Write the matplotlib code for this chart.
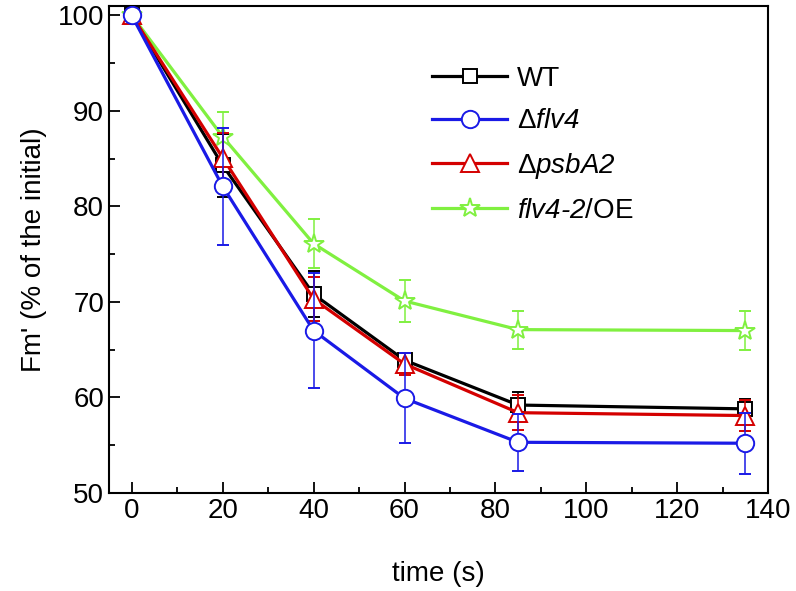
import numpy as np
import matplotlib.pyplot as plt
from matplotlib.ticker import MultipleLocator

plt.rcParams['font.family'] = ['Liberation Sans', 'DejaVu Sans']
plt.rcParams['mathtext.fontset'] = 'custom'
plt.rcParams['mathtext.rm'] = 'Liberation Sans'
plt.rcParams['mathtext.it'] = 'Liberation Sans:italic'

# Data.
time = [0, 20, 40, 60, 85, 135]

wt = [100, 84.3, 70.8, 63.9, 59.2, 58.8]
wt_err = [0, 3.3, 2.4, 0.8, 1.4, 1.0]

flv4 = [100, 82.1, 67.0, 59.9, 55.3, 55.2]
flv4_err = [0, 6.1, 6.0, 4.7, 3.0, 3.2]

psba2 = [100, 85.1, 70.3, 63.5, 58.4, 58.1]
psba2_err = [0, 2.6, 2.3, 1.2, 1.8, 1.6]

oe = [100, 87.3, 76.1, 70.1, 67.1, 67.0]
oe_err = [0, 2.6, 2.6, 2.2, 2.0, 2.0]

# Non-math parts of labels 2-4 are drawn in italic, $\mathrm{}$ parts upright.
labels = ['WT', r'$\mathrm{Δ}$flv4', r'$\mathrm{Δ}$psbA2', r'flv4-2$\mathrm{/OE}$']

fig = plt.figure(figsize=(7.96, 5.91), dpi=100)
ax = fig.add_axes([0.137, 0.166, 0.828, 0.824])

series = [
    (wt, wt_err, '#000000', 's', 10.5, labels[0], 3),
    (flv4, flv4_err, '#1a1ae6', 'o', 12.5, labels[1], 6),
    (psba2, psba2_err, '#d40000', '^', 13, labels[2], 4),
    (oe, oe_err, '#80f040', '*', 15, labels[3], 2),
]

handles = []
for y, err, col, mk, ms, lab, z in series:
    h = ax.errorbar(time, y, yerr=err, color=col, lw=2.3, marker=mk, ms=ms,
                    mfc='white', mec=col, mew=1.4, elinewidth=1.1,
                    capsize=4, capthick=1.1, label=lab, zorder=z)
    handles.append(h[0])

leg = ax.legend(handles, labels, loc='center left',
                bbox_to_anchor=(0.49, 0.715), frameon=False, fontsize=20,
                handlelength=2.7, handletextpad=0.35, labelspacing=0.6,
                borderpad=0, borderaxespad=0)
for t in leg.get_texts()[1:]:
    t.set_fontstyle('italic')

ax.set_xlim(-5, 140)
ax.set_ylim(50, 101)
ax.xaxis.set_major_locator(MultipleLocator(20))
ax.xaxis.set_minor_locator(MultipleLocator(10))
ax.yaxis.set_major_locator(MultipleLocator(10))
ax.yaxis.set_minor_locator(MultipleLocator(5))
ax.tick_params(which='both', direction='in', top=False, right=False,
               width=1.3, labelsize=20)
ax.tick_params(which='major', length=8)
ax.tick_params(which='minor', length=4)
for s in ax.spines.values():
    s.set_linewidth(1.5)

ax.set_xlabel('time (s)', fontsize=20, labelpad=27)
ax.set_ylabel("Fm' (% of the initial)", fontsize=20, labelpad=8)

fig.savefig('out.png', dpi=100)
